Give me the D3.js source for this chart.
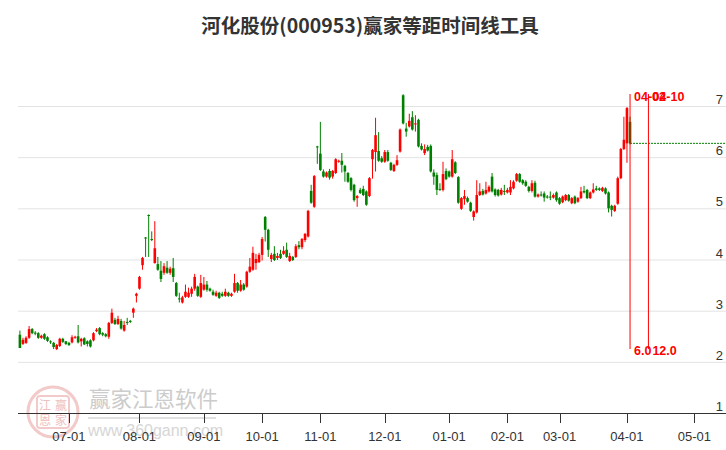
<!DOCTYPE html>
<html><head><meta charset="utf-8">
<script src="https://cdn.jsdelivr.net/npm/d3@7/dist/d3.min.js"></script>
<style>body{margin:0;background:#fff;}svg{display:block;}</style>
</head><body><svg id="c" width="726" height="450"></svg>
<script>
const title = "河化股份(000953)赢家等距时间线工具";
const openV = [2.53,2.35,2.37,2.47,2.64,2.57,2.56,2.47,2.54,2.48,2.40,2.37,2.25,2.31,2.45,2.40,2.37,2.38,2.47,2.50,
2.40,2.46,2.40,2.42,2.42,2.60,2.66,2.56,2.54,2.49,2.76,2.82,2.74,2.80,2.61,2.78,2.80,2.96,3.29,3.43,
3.89,4.43,4.87,4.40,3.93,3.91,3.78,3.74,3.84,3.74,3.83,3.54,3.24,3.16,3.27,3.27,3.33,3.43,3.47,3.27,
3.41,3.51,3.43,3.37,3.29,3.35,3.33,3.29,3.35,3.29,3.37,3.54,3.39,3.51,3.47,3.76,3.80,3.93,3.95,4.09,
4.83,4.58,4.01,4.11,4.03,4.11,4.11,4.19,3.97,4.05,4.05,4.28,4.24,4.38,4.45,5.34,5.03,6.21,6.07,5.72,
5.62,5.73,5.62,5.69,5.91,5.93,5.83,5.69,5.59,5.46,5.20,5.36,5.38,5.33,5.24,5.96,6.10,6.12,5.98,5.91,
6.10,5.89,5.73,5.85,6.11,7.21,6.56,6.60,6.78,6.64,6.73,6.22,6.08,6.20,6.22,5.70,5.65,5.38,5.36,5.73,
5.72,5.62,5.90,5.61,4.99,5.18,5.20,5.11,4.83,4.92,5.26,5.34,5.29,5.33,5.62,5.37,5.36,5.27,5.34,5.31,
5.31,5.39,5.54,5.67,5.55,5.52,5.42,5.34,5.50,5.23,5.27,5.29,5.23,5.23,5.21,5.31,5.20,5.12,5.16,5.26,
5.10,5.23,5.13,5.20,5.34,5.36,5.20,5.31,5.39,5.39,5.34,5.39,5.31,5.05,4.95,5.09,5.59,6.16,6.27,6.69];
const highV = [2.61,2.47,2.50,2.70,2.66,2.60,2.58,2.53,2.56,2.50,2.42,2.39,2.35,2.47,2.47,2.41,2.39,2.52,2.51,2.72,
2.47,2.48,2.42,2.44,2.58,2.66,2.68,2.58,2.56,2.78,3.04,2.86,2.90,2.84,2.80,2.86,2.82,3.06,3.35,3.68,
4.05,4.44,4.88,4.55,4.75,4.05,3.97,3.93,3.97,3.86,4.03,3.56,3.35,3.29,3.51,3.45,3.47,3.72,3.49,3.70,
3.66,3.58,3.45,3.41,3.39,3.37,3.37,3.43,3.37,3.35,3.72,3.56,3.60,3.54,3.78,4.03,4.25,4.11,4.13,4.44,
4.85,4.60,4.13,4.26,4.13,4.19,4.26,4.33,4.13,4.07,4.30,4.36,4.42,4.52,4.97,5.46,5.65,6.22,6.69,5.76,
5.72,5.77,5.75,5.98,5.95,6.08,5.85,5.71,5.61,5.48,5.26,5.40,5.44,5.35,5.61,6.16,6.77,6.49,6.02,6.14,
6.14,5.91,5.87,6.04,6.56,7.23,6.67,6.85,6.90,6.82,6.75,6.27,6.25,6.24,6.25,5.76,5.70,5.49,5.91,5.78,
5.74,6.14,5.92,5.63,5.22,5.36,5.23,5.13,4.96,5.55,5.49,5.38,5.52,5.45,5.69,5.39,5.38,5.40,5.46,5.40,
5.55,5.55,5.69,5.69,5.57,5.55,5.44,5.55,5.54,5.29,5.33,5.33,5.26,5.33,5.29,5.33,5.22,5.25,5.28,5.28,
5.22,5.25,5.22,5.42,5.44,5.38,5.33,5.49,5.44,5.41,5.42,5.41,5.33,5.07,5.07,5.62,6.18,6.79,6.98,6.79];
const lowV = [2.27,2.33,2.35,2.45,2.54,2.52,2.45,2.45,2.43,2.39,2.35,2.25,2.23,2.29,2.37,2.33,2.31,2.36,2.45,2.36,
2.30,2.33,2.30,2.28,2.40,2.58,2.52,2.50,2.48,2.45,2.74,2.72,2.72,2.63,2.59,2.72,2.76,2.86,3.16,3.41,
3.80,4.05,4.05,4.36,3.92,3.78,3.56,3.70,3.72,3.70,3.56,3.27,3.16,3.14,3.25,3.25,3.27,3.39,3.27,3.25,
3.39,3.37,3.37,3.29,3.27,3.23,3.27,3.27,3.27,3.27,3.35,3.35,3.37,3.39,3.45,3.74,3.78,3.80,3.93,3.98,
4.35,4.05,3.95,3.97,3.99,4.01,4.09,4.03,3.95,3.97,4.03,4.20,4.20,4.34,4.43,5.09,5.01,5.87,5.73,5.60,
5.60,5.56,5.58,5.67,5.89,5.70,5.52,5.50,5.33,5.13,5.03,5.28,5.24,5.05,5.22,5.58,5.72,5.91,5.89,5.89,
5.91,5.73,5.71,5.83,6.09,6.64,6.40,6.58,6.52,6.50,6.19,6.13,6.04,6.11,5.70,5.46,5.26,5.34,5.33,5.55,
5.60,5.60,5.67,5.09,4.97,5.07,5.11,4.93,4.76,4.90,5.24,5.25,5.27,5.31,5.31,5.23,5.23,5.25,5.26,5.29,
5.26,5.37,5.52,5.50,5.46,5.42,5.31,5.31,5.21,5.21,5.23,5.13,5.19,5.16,5.19,5.13,5.07,5.10,5.14,5.13,
5.08,5.08,5.11,5.18,5.29,5.18,5.18,5.29,5.34,5.34,5.32,5.27,4.92,4.84,4.93,5.07,5.57,6.14,5.89,6.25];
const closeV = [2.27,2.43,2.47,2.64,2.56,2.55,2.47,2.51,2.45,2.41,2.38,2.29,2.33,2.45,2.39,2.35,2.33,2.48,2.49,2.38,
2.45,2.34,2.35,2.30,2.56,2.63,2.54,2.53,2.50,2.76,2.96,2.74,2.84,2.65,2.72,2.76,2.78,3.04,3.33,3.66,
4.03,4.41,4.85,4.38,4.22,3.80,3.62,3.87,3.74,3.82,3.66,3.29,3.22,3.26,3.37,3.35,3.43,3.66,3.29,3.54,
3.51,3.41,3.39,3.31,3.35,3.25,3.29,3.37,3.29,3.33,3.54,3.39,3.51,3.41,3.76,3.86,4.13,4.01,4.09,4.40,
4.58,4.19,4.09,3.99,4.07,4.03,4.17,4.05,4.07,3.99,4.26,4.24,4.40,4.50,4.95,5.11,5.63,6.19,5.75,5.62,
5.70,5.60,5.73,5.96,5.93,5.85,5.72,5.52,5.36,5.16,5.24,5.30,5.26,5.07,5.59,6.14,6.43,5.93,5.91,6.10,
5.93,5.75,5.85,5.94,6.54,6.66,6.50,6.71,6.54,6.66,6.21,6.15,6.16,6.13,5.72,5.62,5.36,5.36,5.67,5.57,
5.62,5.96,5.69,5.11,5.20,5.24,5.13,4.95,4.94,5.26,5.33,5.27,5.36,5.42,5.33,5.26,5.25,5.36,5.32,5.36,
5.42,5.52,5.67,5.52,5.49,5.44,5.34,5.49,5.23,5.27,5.25,5.21,5.21,5.21,5.26,5.16,5.09,5.23,5.26,5.15,
5.20,5.10,5.20,5.33,5.31,5.20,5.31,5.37,5.36,5.36,5.40,5.29,5.00,4.97,5.05,5.59,6.16,6.34,6.96,6.27];
const tickLabels = ["07-01","08-01","09-01","10-01","11-01","12-01","01-01","02-01","03-01","04-01","05-01"];
const tickIndex = [16,39,60,79,98,119,140,159,176,198,220];
const yTicks = [1,2,3,4,5,6,7];
const lineIndex = [199,205];
const lineDate = ["04-02","04-10"];
const lineCount = ["6.0","12.0"];

const svg = d3.select("#c");
const x = d3.scaleLinear().domain([-0.62, 230.3]).range([18, 726]);
const y = d3.scaleLinear().domain([1, 7]).range([413, 106]);
const font = "'Liberation Sans', Arial, sans-serif";

// watermark
const wm = svg.append("g");
wm.append("circle").attr("cx",53).attr("cy",412).attr("r",25).attr("fill","none").attr("stroke","#f2caca").attr("stroke-width",3);
wm.append("rect").attr("x",37).attr("y",396).attr("width",32).attr("height",32).attr("rx",3).attr("fill","none").attr("stroke","#f2caca").attr("stroke-width",2);
[["江",45,410],["赢",61,410],["恩",45,425],["家",61,425]].forEach(d=>{
  wm.append("text").attr("x",d[1]).attr("y",d[2]).attr("text-anchor","middle").attr("font-size",12).attr("font-family","'Noto Sans CJK SC'").attr("fill","#efc0c0").text(d[0]);
});
wm.append("text").attr("x",89).attr("y",407).attr("font-size",21.5).attr("font-family","'Noto Sans CJK SC'").attr("fill","#cccccc").text("赢家江恩软件");
wm.append("line").attr("x1",88).attr("x2",216).attr("y1",418).attr("y2",418).attr("stroke","#e0e0e0").attr("stroke-width",2);
wm.append("text").attr("x",88).attr("y",436).attr("font-size",16).attr("font-family",font).attr("fill","#d6d6d6").text("www.360gann.com");

// grid
svg.append("g").selectAll("line").data(yTicks.filter(v=>v>1)).join("line")
  .attr("x1",18).attr("x2",726).attr("y1",d=>y(d)+0.5).attr("y2",d=>y(d)+0.5)
  .attr("stroke","#e3e3e3").attr("stroke-width",1);
svg.append("g").selectAll("text").data(yTicks).join("text")
  .attr("x",723).attr("y",d=>y(d)-2).attr("text-anchor","end")
  .attr("font-size",13).attr("font-family",font).attr("fill","#333").text(d=>d);

// title
svg.append("text").attr("x",370).attr("y",33).attr("text-anchor","middle")
  .attr("font-size",19.5).attr("font-weight","bold").attr("font-family","'Noto Sans CJK SC'").attr("fill","#333").text(title);

// x axis
const ax = svg.append("g").attr("transform","translate(0,413)");
ax.append("line").attr("x1",18).attr("x2",726).attr("y1",0.5).attr("y2",0.5).attr("stroke","#333");
ax.selectAll("line.t").data(tickIndex).join("line").attr("class","t")
  .attr("x1",d=>Math.round(x(d))+0.5).attr("x2",d=>Math.round(x(d))+0.5).attr("y1",0).attr("y2",10).attr("stroke","#333");
ax.selectAll("text").data(tickLabels).join("text")
  .attr("x",(d,i)=>x(tickIndex[i])).attr("y",28).attr("text-anchor","middle")
  .attr("font-size",13).attr("font-family",font).attr("fill","#333").text(d=>d);

// candles
const data = openV.map((o,i)=>({i,o,h:highV[i],l:lowV[i],c:closeV[i]}));
const col = d=> d.c>=d.o ? "#ff0000" : "#008000";
const cg = svg.append("g");
cg.selectAll("line").data(data).join("line")
  .attr("x1",d=>x(d.i)).attr("x2",d=>x(d.i)).attr("y1",d=>y(d.h)).attr("y2",d=>y(d.l))
  .attr("stroke",col).attr("stroke-width",1);
cg.selectAll("rect").data(data).join("rect")
  .attr("x",d=>x(d.i)-1.3).attr("width",2.6)
  .attr("y",d=>y(Math.max(d.o,d.c))).attr("height",d=>Math.max(1,Math.abs(y(d.o)-y(d.c))))
  .attr("fill",col);

// last close dotted line
const last = data[data.length-1];
svg.append("line").attr("x1",x(last.i)).attr("x2",726).attr("y1",y(last.c)).attr("y2",y(last.c))
  .attr("stroke","#008000").attr("stroke-dasharray","2,1").attr("stroke-width",1);

// equidistant time lines
const lg = svg.append("g");
lineIndex.forEach((li,k)=>{
  const xx = x(li);
  lg.append("line").attr("x1",xx).attr("x2",xx).attr("y1",94).attr("y2",349).attr("stroke","#ff0000").attr("stroke-width",1);
  lg.append("text").attr("x",xx+4).attr("y",101).attr("font-size",12.5).attr("font-weight","bold").attr("font-family",font).attr("fill","#ff0000").text(lineDate[k]);
  lg.append("text").attr("x",xx+4).attr("y",355).attr("font-size",12.5).attr("font-weight","bold").attr("font-family",font).attr("fill","#ff0000").text(lineCount[k]);
});
</script></body></html>
